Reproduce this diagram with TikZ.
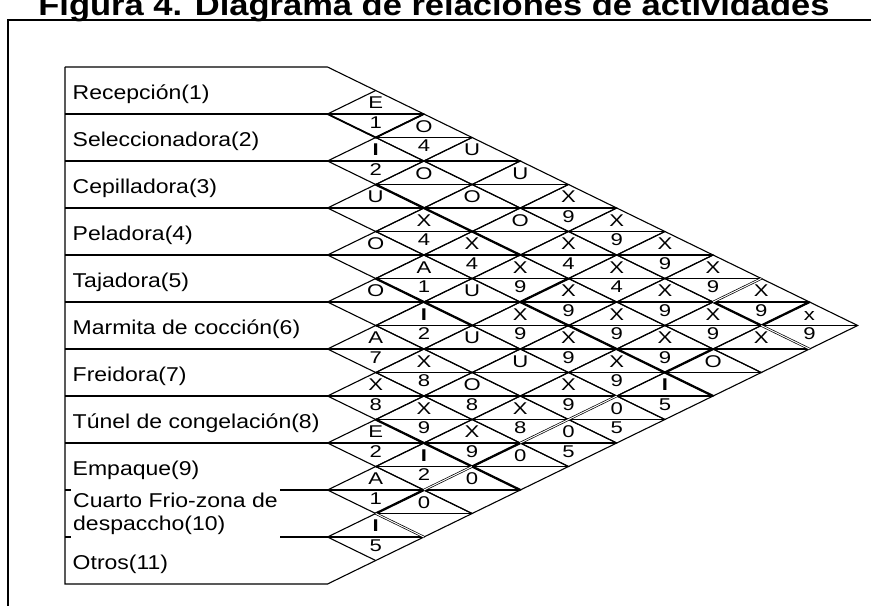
\documentclass[tikz,border=0pt]{standalone}
\usepackage{fontspec}
\setmainfont{Liberation Sans}[FakeStretch=1.15]
\newfontfamily\cellfam{Liberation Sans}[FakeStretch=1.3]
\usetikzlibrary{shapes.geometric}

\newcommand{\titlefont}{\fontsize{30}{34}\selectfont\bfseries}
\newcommand{\deptfont}{\fontsize{20}{23}\selectfont}
\newcommand{\cellfont}{\cellfam\fontsize{17}{19}\selectfont}

\tikzset{
	cell/.style={shape=diamond,draw,line width=1.1pt,minimum width=96.4pt,minimum height=47pt,inner sep=0pt,outer sep=0pt,
		path picture={\draw[line width=1.1pt] (path picture bounding box.west) -- (path picture bounding box.east);}},
	tag/.style={font=\cellfont,inner sep=0pt},
	ltr/.style={label={[tag,yshift=-18.6pt]above:#1}},
	num/.style={label={[tag,yshift=21.1pt]below:#1}},
	dept/.style={anchor=base west,inner sep=0pt,font=\deptfont,yshift=-8.5pt},
	rule/.style={line width=1.1pt},
	frame/.style={line width=2pt},
	heavy/.style={line width=2.3pt},
	twin/.style={double,double distance=1pt,line width=0.7pt}
}

\begin{document}
\begin{tikzpicture}[x=48.2pt,y=-23.5pt]
	\useasboundingbox (-6.7946,-1.8511) rectangle (11.2759,23.9362);

	\node[font=\titlefont,anchor=base] (title) at (2.2095,-1.19) {Figura 4. Diagrama de relaciones de actividades};
	\draw[frame] (11.2759,-1) -- (-6.629,-1) -- (-6.629,23.9362);

	\draw[rule] (-5.446,1) -- (0,1) -- (1,2);
	\draw[rule] (-5.446,1) -- (-5.446,23) -- (0,23) -- (1,22);
	\draw[rule] (-5.446,3) -- (0,3);
	\draw[rule] (-5.446,5) -- (0,5);
	\draw[rule] (-5.446,7) -- (0,7);
	\draw[rule] (-5.446,9) -- (0,9);
	\draw[rule] (-5.446,11) -- (0,11);
	\draw[rule] (-5.446,13) -- (0,13);
	\draw[rule] (-5.446,15) -- (0,15);
	\draw[rule] (-5.446,17) -- (0,17);
	\draw[rule] (-5.446,19) -- (0,19);
	\draw[rule] (-5.446,21) -- (0,21);

	\node[dept] (p1) at (-5.29,2) {Recepción(1)};
	\node[dept] (p2) at (-5.29,4) {Seleccionadora(2)};
	\node[dept] (p3) at (-5.29,6) {Cepilladora(3)};
	\node[dept] (p4) at (-5.29,8) {Peladora(4)};
	\node[dept] (p5) at (-5.29,10) {Tajadora(5)};
	\node[dept] (p6) at (-5.29,12) {Marmita de cocción(6)};
	\node[dept] (p7) at (-5.29,14) {Freidora(7)};
	\node[dept] (p8) at (-5.29,16) {Túnel de congelación(8)};
	\node[dept] (p9) at (-5.29,18) {Empaque(9)};
	\node[anchor=west,font=\deptfont,fill=white,inner xsep=2pt,inner ysep=0pt,minimum height=50pt,align=left] (p10) at (-5.322,20) {Cuarto Frio-zona de\\despaccho(10)};
	\node[dept] (p11) at (-5.29,22) {Otros(11)};

	\node[cell,ltr=E,num=1] (r1-2) at (1,3) {};
	\node[cell,ltr=O,num=4] (r1-3) at (2,4) {};
	\node[cell,ltr=U] (r1-4) at (3,5) {};
	\node[cell,ltr=U] (r1-5) at (4,6) {};
	\node[cell,ltr=X,num=9] (r1-6) at (5,7) {};
	\node[cell,ltr=X,num=9] (r1-7) at (6,8) {};
	\node[cell,ltr=X,num=9] (r1-8) at (7,9) {};
	\node[cell,ltr=X,num=9] (r1-9) at (8,10) {};
	\node[cell,ltr=X,num=9] (r1-10) at (9,11) {};
	\node[cell,ltr=x,num=9] (r1-11) at (10,12) {};

	\node[cell,ltr=\textbf{I},num=2] (r2-3) at (1,5) {};
	\node[cell,ltr=O] (r2-4) at (2,6) {};
	\node[cell,ltr=O] (r2-5) at (3,7) {};
	\node[cell,ltr=O] (r2-6) at (4,8) {};
	\node[cell,ltr=X,num=4] (r2-7) at (5,9) {};
	\node[cell,ltr=X,num=4] (r2-8) at (6,10) {};
	\node[cell,ltr=X,num=9] (r2-9) at (7,11) {};
	\node[cell,ltr=X,num=9] (r2-10) at (8,12) {};
	\node[cell,ltr=X] (r2-11) at (9,13) {};

	\node[cell,ltr=U] (r3-4) at (1,7) {};
	\node[cell,ltr=X,num=4] (r3-5) at (2,8) {};
	\node[cell,ltr=X,num=4] (r3-6) at (3,9) {};
	\node[cell,ltr=X,num=9] (r3-7) at (4,10) {};
	\node[cell,ltr=X,num=9] (r3-8) at (5,11) {};
	\node[cell,ltr=X,num=9] (r3-9) at (6,12) {};
	\node[cell,ltr=X,num=9] (r3-10) at (7,13) {};
	\node[cell,ltr=O] (r3-11) at (8,14) {};

	\node[cell,ltr=O] (r4-5) at (1,9) {};
	\node[cell,ltr=A,num=1] (r4-6) at (2,10) {};
	\node[cell,ltr=U] (r4-7) at (3,11) {};
	\node[cell,ltr=X,num=9] (r4-8) at (4,12) {};
	\node[cell,ltr=X,num=9] (r4-9) at (5,13) {};
	\node[cell,ltr=X,num=9] (r4-10) at (6,14) {};
	\node[cell,ltr=\textbf{I},num=5] (r4-11) at (7,15) {};

	\node[cell,ltr=O] (r5-6) at (1,11) {};
	\node[cell,ltr=\textbf{I},num=2] (r5-7) at (2,12) {};
	\node[cell,ltr=U] (r5-8) at (3,13) {};
	\node[cell,ltr=U] (r5-9) at (4,14) {};
	\node[cell,ltr=X,num=9] (r5-10) at (5,15) {};
	\node[cell,ltr=0,num=5] (r5-11) at (6,16) {};

	\node[cell,ltr=A,num=7] (r6-7) at (1,13) {};
	\node[cell,ltr=X,num=8] (r6-8) at (2,14) {};
	\node[cell,ltr=O,num=8] (r6-9) at (3,15) {};
	\node[cell,ltr=X,num=8] (r6-10) at (4,16) {};
	\node[cell,ltr=0,num=5] (r6-11) at (5,17) {};

	\node[cell,ltr=X,num=8] (r7-8) at (1,15) {};
	\node[cell,ltr=X,num=9] (r7-9) at (2,16) {};
	\node[cell,ltr=X,num=9] (r7-10) at (3,17) {};
	\node[cell,ltr=0] (r7-11) at (4,18) {};

	\node[cell,ltr=E,num=2] (r8-9) at (1,17) {};
	\node[cell,ltr=\textbf{I},num=2] (r8-10) at (2,18) {};
	\node[cell,ltr=0] (r8-11) at (3,19) {};

	\node[cell,ltr=A,num=1] (r9-10) at (1,19) {};
	\node[cell,ltr=0] (r9-11) at (2,20) {};

	\node[cell,ltr=\textbf{I},num=5] (r10-11) at (1,21) {};

	\draw[line width=1.8pt] (0,3) -- (1,4) -- (2,3);
	\draw[heavy] (1,6) -- (4,9);
	\draw[heavy] (1,10) -- (3,12);
	\draw[heavy] (5,10) -- (4,11) -- (8,15);
	\draw[heavy] (7,14) -- (8,13);
	\draw[heavy] (8,11) -- (9,12) -- (10,11);
	\draw[twin] (8,11) -- (9,10);
	\draw[twin] (9,12) -- (10,13);
	\draw[heavy] (1,16) -- (4,19);
	\draw[heavy] (1,20) -- (2,19);
	\draw[twin] (2,19) -- (3,18);
	\draw[heavy] (3,18) -- (4,17);
	\draw[twin] (4,17) -- (6,15);
	\draw[twin] (1,20) -- (2,21);
\end{tikzpicture}
\end{document}
